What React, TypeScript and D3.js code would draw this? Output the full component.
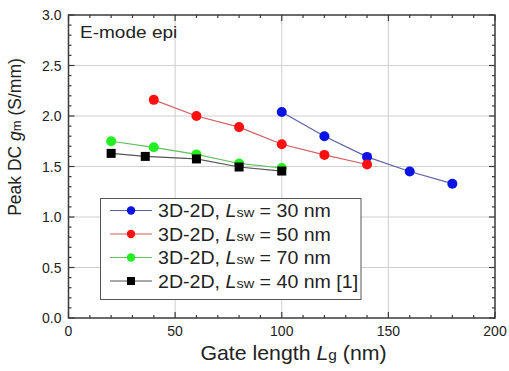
import React from "react";
import * as d3 from "d3";

const W = 509, H = 371;
const M = { left: 68.5, right: 495, top: 15, bottom: 318 };

const xTicks = [0, 50, 100, 150, 200];
const yTicks = [0.0, 0.5, 1.0, 1.5, 2.0, 2.5, 3.0];

const blueX = [100, 120, 140, 160, 180];
const blueY = [2.04, 1.8, 1.595, 1.45, 1.33];
const redX = [40, 60, 80, 100, 120, 140];
const redY = [2.16, 2.0, 1.89, 1.72, 1.615, 1.52];
const greenX = [20, 40, 60, 80, 100];
const greenY = [1.75, 1.69, 1.62, 1.53, 1.485];
const blackX = [20, 36, 60, 80, 100];
const blackY = [1.63, 1.6, 1.575, 1.495, 1.455];

const legendNames = ["3D-2D, ", "3D-2D, ", "3D-2D, ", "2D-2D, "];
const legendVals = [" = 30 nm", " = 50 nm", " = 70 nm", " = 40 nm [1]"];

const series = [
  { xs: blueX, ys: blueY, line: "#5a62a8", fill: "#0a14e6", shape: "circle" },
  { xs: redX, ys: redY, line: "#d06060", fill: "#ff1010", shape: "circle" },
  { xs: greenX, ys: greenY, line: "#60c060", fill: "#22ee22", shape: "circle" },
  { xs: blackX, ys: blackY, line: "#555555", fill: "#000000", shape: "square" },
];

export default function App() {
  const x = d3.scaleLinear().domain([0, 200]).range([M.left, M.right]);
  const y = d3.scaleLinear().domain([0, 3]).range([M.bottom, M.top]);
  const font = "'Liberation Sans', Arial, sans-serif";
  const xMinor = d3.range(0, 201, 10);
  const yMinor = d3.range(0, 31, 1).map((v) => v / 10);
  const axisColor = "#3a3a3a";

  const marker = (s: any, cx: number, cy: number, k: any) =>
    s.shape === "circle" ? (
      <circle key={k} cx={cx} cy={cy} r={5} fill={s.fill} />
    ) : (
      <rect key={k} x={cx - 4.5} y={cy - 4.5} width={9} height={9} fill={s.fill} />
    );

  return (
    <svg width={W} height={H} style={{ display: "block", position: "absolute", left: 0, top: 0 }} fontFamily={font}>
      <rect width={W} height={H} fill="#fff" />
      {/* grid */}
      {[50, 100, 150].map((v) => (
        <line key={"gx" + v} x1={x(v)} x2={x(v)} y1={M.top} y2={M.bottom} stroke="#cfcfcf" strokeWidth={1} />
      ))}
      {[0.5, 1.0, 1.5, 2.0, 2.5].map((v) => (
        <line key={"gy" + v} x1={M.left} x2={M.right} y1={y(v)} y2={y(v)} stroke="#cfcfcf" strokeWidth={1} />
      ))}
      {/* ticks */}
      {xMinor.map((v) => {
        const len = v % 50 === 0 ? 6 : 3;
        return (
          <g key={"xt" + v}>
            <line x1={x(v)} x2={x(v)} y1={M.bottom} y2={M.bottom - len} stroke={axisColor} strokeWidth={1.2} />
            <line x1={x(v)} x2={x(v)} y1={M.top} y2={M.top + len} stroke={axisColor} strokeWidth={1.2} />
          </g>
        );
      })}
      {yMinor.map((v, i) => {
        const len = i % 5 === 0 ? 6 : 3;
        return (
          <g key={"yt" + i}>
            <line x1={M.left} x2={M.left + len} y1={y(v)} y2={y(v)} stroke={axisColor} strokeWidth={1.2} />
            <line x1={M.right} x2={M.right - len} y1={y(v)} y2={y(v)} stroke={axisColor} strokeWidth={1.2} />
          </g>
        );
      })}
      <rect x={M.left} y={M.top} width={M.right - M.left} height={M.bottom - M.top} fill="none" stroke={axisColor} strokeWidth={1.5} />
      {/* tick labels */}
      {xTicks.map((v) => (
        <text key={"xl" + v} x={x(v)} y={M.bottom + 18} textAnchor="middle" fontSize={14} fill="#222">
          {v}
        </text>
      ))}
      {yTicks.map((v) => (
        <text key={"yl" + v} x={M.left - 7} y={y(v) + 5} textAnchor="end" fontSize={14} fill="#222">
          {v.toFixed(1)}
        </text>
      ))}
      {/* axis titles */}
      <text transform="translate(293.5, 360) scale(1.065, 1)" textAnchor="middle" fontSize={20} fill="#222">
        Gate length <tspan fontStyle="italic">L</tspan>
        <tspan fontSize={14.5}>g</tspan> (nm)
      </text>
      <text transform={`translate(21, 137) rotate(-90)`} textAnchor="middle" fontSize={17.5} fill="#222">
        Peak DC <tspan fontStyle="italic">g</tspan>
        <tspan fontSize={13}>m</tspan> (S/mm)
      </text>
      <text transform="translate(80, 38) scale(1.12, 1)" fontSize={17} fill="#222">E-mode epi</text>
      {/* series */}
      {series.map((s, si) => {
        const line = d3
          .line<number>()
          .x((_, i) => x(s.xs[i]))
          .y((d) => y(d));
        return (
          <g key={"s" + si}>
            <path d={line(s.ys) || ""} fill="none" stroke={s.line} strokeWidth={1.2} />
            {s.ys.map((v, i) => marker(s, x(s.xs[i]), y(v), i))}
          </g>
        );
      })}
      {/* legend */}
      <rect x={100.5} y={198.5} width={260.5} height={101} fill="#fff" stroke="#555" strokeWidth={1} />
      {series.map((s, i) => {
        const cy = 210.5 + i * 23.5;
        return (
          <g key={"lg" + i}>
            <line x1={110} x2={152} y1={cy} y2={cy} stroke={s.line} strokeWidth={1.2} />
            {s.shape === "circle" ? (
              <circle cx={131} cy={cy} r={4.2} fill={s.fill} />
            ) : (
              <rect x={127} y={cy - 4} width={8} height={8} fill={s.fill} />
            )}
            <text transform={`translate(158, ${cy + 6.5}) scale(1.12, 1)`} fontSize={17.5} fill="#222">
              {legendNames[i]}
              <tspan fontStyle="italic">L</tspan>
              <tspan fontSize={13}>sw</tspan>
              {legendVals[i]}
            </text>
          </g>
        );
      })}
    </svg>
  );
}
